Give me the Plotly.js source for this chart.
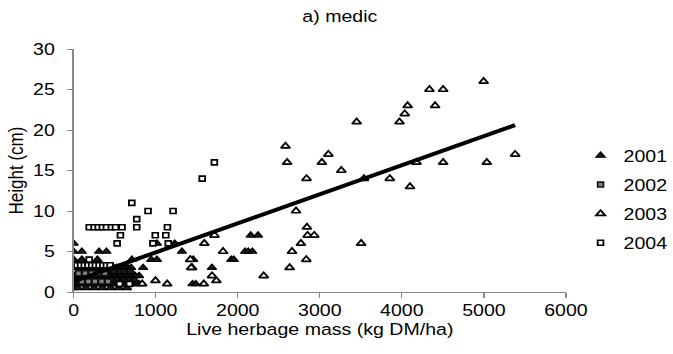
<!DOCTYPE html>
<html>
<head>
<meta charset="utf-8">
<script src="https://cdn.plot.ly/plotly-3.0.1.min.js"></script>
<style>
html,body{margin:0;padding:0;background:#fff;overflow:hidden;}
#chart{width:585px;height:354px;transform:scaleX(1.1504);transform-origin:0 0;}
</style>
</head>
<body>
<div id="chart"></div>
<script>
// ---- data ----
const seriesNames = ["2001", "2002", "2003", "2004"];

// 2001: filled dark triangles
const x2001 = [0, 0, 100, 310, 400, 100, 290, 709, 946, 1015, 847, 798, 611, 1015, 1232, 1320, 1419, 1458, 1449, 1488, 1685, 1922, 1951, 2089, 2128, 2178, 2158, 2247,
  0, 0, 0, 0, 0, 0,
  20, 55, 90, 125, 160, 195, 230, 265, 300, 335, 370, 405, 440, 475, 510, 545, 580, 615, 650, 685, 720, 760, 800,
  10, 45, 80, 115, 150, 185, 220, 255, 290, 325, 360, 395, 430, 465, 500, 535, 570, 605, 640, 675, 710, 750,
  30, 65, 100, 135, 170, 205, 240, 275, 310, 345, 380, 415, 450, 485, 520, 555, 590, 625, 660, 700,
  40, 110, 180, 250, 320, 390, 460, 530, 600, 670, 740,
  70, 140, 210, 280, 350, 420, 490, 560, 630, 700,
  50, 150, 250, 350, 450, 550, 650];
const y2001 = [6, 5, 5, 5, 5, 4, 4, 4, 4, 4, 3, 2, 2, 6, 6, 5, 4, 4, 1, 1, 3, 4, 4, 5, 5, 5, 7, 7,
  0.5, 1, 1.5, 2, 3, 4,
  1, 1, 1, 1, 1, 1, 1, 1, 1, 1, 1, 1, 1, 1, 1, 1, 1, 1, 1, 1, 1, 1, 1,
  2, 2, 2, 2, 2, 2, 2, 2, 2, 2, 2, 2, 2, 2, 2, 2, 2, 2, 2, 2, 2, 2,
  3, 3, 3, 3, 3, 3, 3, 3, 3, 3, 3, 3, 3, 3, 3, 3, 3, 3, 3, 3,
  1.5, 1.5, 1.5, 1.5, 1.5, 1.5, 1.5, 1.5, 1.5, 1.5, 1.5,
  2.5, 2.5, 2.5, 2.5, 2.5, 2.5, 2.5, 2.5, 2.5, 2.5,
  0.5, 0.5, 0.5, 0.5, 0.5, 0.5, 0.5];

// 2002: grey filled squares
const x2002 = [60, 140, 220, 300, 380, 100, 180, 260, 340, 420];
const y2002 = [2.3, 2.3, 2.3, 2.3, 2.3, 1.3, 1.3, 1.3, 1.3, 1.3];

// 2003: open triangles
const x2003 = [4336, 4503, 4996, 4070, 4405, 4035, 3971, 3449, 3104, 5380, 2582, 3025, 2601, 4178, 4503, 5035, 3262, 2838, 3538, 3853, 4099, 2710, 2843, 2851, 2932, 2770, 3504, 2661, 2835, 2632, 2316, 1716, 1593, 1821, 1444, 1687, 1739, 1586, 836, 997, 1140, 1432, 1423];
const y2003 = [25, 25, 26, 23, 23, 22, 21, 21, 17, 17, 18, 16, 16, 16, 16, 16, 15, 14, 14, 14, 13, 10, 8, 7, 7, 6, 6, 5, 4, 3, 2, 7, 6, 5, 3, 2, 1.4, 1, 1, 1.4, 1, 3, 4];

// 2004: open squares
const x2004 = [190, 250, 300, 350, 400, 460, 510, 590, 709, 907, 1212, 769, 769, 1143, 570, 995, 1123, 530, 966, 1153, 1567, 1715, 190, 680, 560,
  40, 85, 130, 175, 220, 265, 310, 355, 400, 445];
const y2004 = [8, 8, 8, 8, 8, 8, 8, 8, 11, 10, 10, 9, 8, 8, 7, 7, 7, 6, 6, 6, 14, 16, 4, 1, 1,
  3.3, 3.3, 3.3, 3.3, 3.3, 3.3, 3.3, 3.3, 3.3, 3.3];

// linear trend line end points
const trendX = [0, 5380];
const trendY = [1.3, 20.6];

// axis ticks
const xTicks = [0, 1000, 2000, 3000, 4000, 5000, 6000];
const yTicks = [0, 5, 10, 15, 20, 25, 30];

// ---- chart ----
const FONT = "Liberation Sans, Arial, sans-serif";
const traces = [
  {x: x2001, y: y2001, name: seriesNames[0], type: "scatter", mode: "markers", legendgroup: "a",
   marker: {symbol: "triangle-up", size: 7, color: "#1a1a1a", line: {color: "#000", width: 1.2}}},
  {x: x2002, y: y2002, name: seriesNames[1], type: "scatter", mode: "markers", legendgroup: "b",
   marker: {symbol: "square", size: 5, color: "#808080", line: {color: "#111", width: 1.5}}},
  {x: x2003, y: y2003, name: seriesNames[2], type: "scatter", mode: "markers", legendgroup: "c",
   marker: {symbol: "triangle-up", size: 7, color: "#fff", line: {color: "#000", width: 1.7}}},
  {x: x2004, y: y2004, name: seriesNames[3], type: "scatter", mode: "markers", legendgroup: "d",
   marker: {symbol: "square", size: 5, color: "#fff", line: {color: "#000", width: 1.6}}},
  {x: trendX, y: trendY, type: "scatter", mode: "lines", showlegend: false,
   line: {color: "#000", width: 4}, hoverinfo: "skip"}
];

const layout = {
  width: 585, height: 354,
  margin: {l: 63.5, r: 92.5, t: 49, b: 62, autoexpand: false},
  paper_bgcolor: "#fff", plot_bgcolor: "#fff",
  font: {family: FONT, color: "#000", size: 17},
  title: {text: "a) medic", x: 0.505, xanchor: "center", y: 0.955, yanchor: "middle",
          font: {family: FONT, size: 17, color: "#000"}},
  xaxis: {range: [0, 6000], tickvals: xTicks, ticktext: xTicks.map(String),
          showgrid: false, zeroline: false, showline: true, linecolor: "#888", linewidth: 1,
          ticks: "outside", ticklen: 5, tickcolor: "#888", ticklabelstandoff: -2,
          tickfont: {family: FONT, size: 17, color: "#000"},
          title: {text: "Live herbage mass (kg DM/ha)", font: {family: FONT, size: 17, color: "#000"}, standoff: 1}},
  yaxis: {range: [0, 30], tickvals: yTicks, ticktext: yTicks.map(String),
          showgrid: false, zeroline: false, showline: true, linecolor: "#888", linewidth: 1,
          ticks: "outside", ticklen: 5, tickcolor: "#888", ticklabelstandoff: 7,
          tickfont: {family: FONT, size: 17, color: "#000"},
          title: {text: "Height (cm)", font: {family: FONT, size: 17, color: "#000"}, standoff: 3}},
  legend: {x: 0.0235, xanchor: "left", y: 0.381, yanchor: "middle", tracegroupgap: 4,
           font: {family: FONT, size: 17, color: "#000"}},
  showlegend: true
};
// legend sits just right of the plot area (x given in paper fraction beyond the right edge)
layout.legend.x = 1 + layout.legend.x;

Plotly.newPlot("chart", traces, layout, {displayModeBar: false, staticPlot: true});
</script>
</body>
</html>
